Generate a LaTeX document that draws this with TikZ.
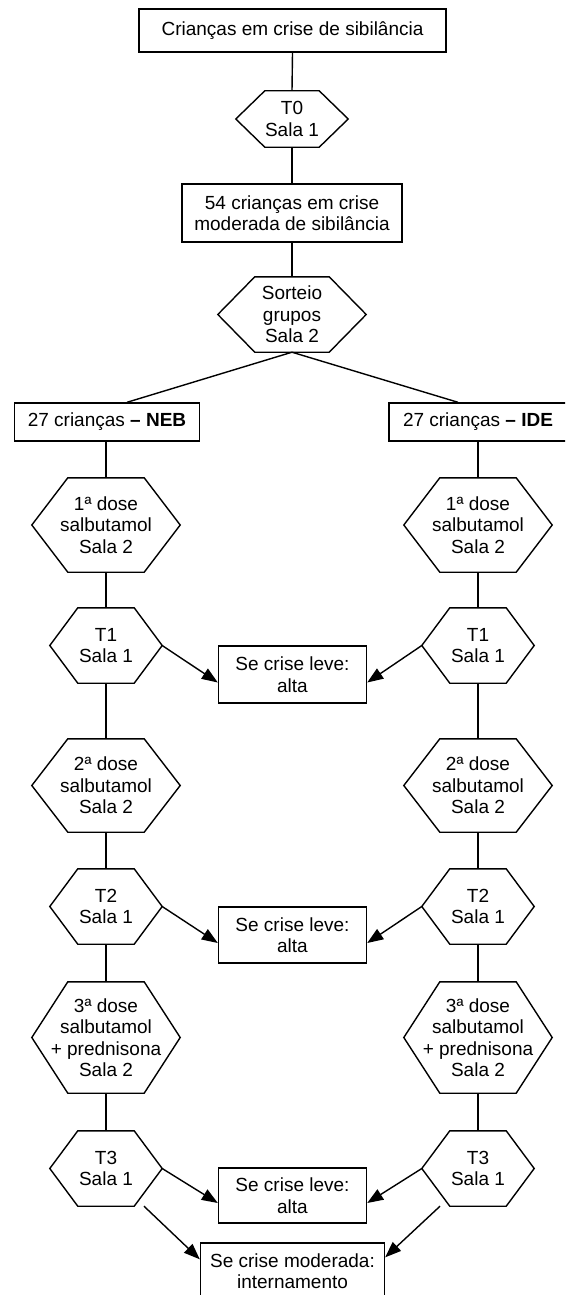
\documentclass[tikz,border=0pt]{standalone}
\usepackage{fontspec}
\setmainfont{Liberation Sans}
\usetikzlibrary{arrows.meta,calc}
\tikzset{
  ln/.style={line width=1.4pt},
  boxn/.style={draw, ln, align=center, inner sep=0pt},
  hexn/.style={align=center, inner sep=0pt},
  arr/.style={ln, -{Triangle[length=16pt,width=12pt]}},
}
% name, x, y, full width, slant, full height, text
\newcommand\hexbox[7]{%
  \node[hexn, minimum width=#4, minimum height=#6] (#1) at (#2,#3) {#7};
  \draw[ln] (#1.west) -- ($(#1.north west)+(#5,0)$) -- ($(#1.north east)+(-#5,0)$)
    -- (#1.east) -- ($(#1.south east)+(-#5,0)$) -- ($(#1.south west)+(#5,0)$) -- cycle;
}
\begin{document}
\begin{tikzpicture}[x=1pt, y=-1pt, font=\fontsize{19}{21.5}\selectfont]
\useasboundingbox (0,0) rectangle (565,1295);
\clip (0,0) rectangle (565,1295);

% top
\node[boxn, minimum width=307pt, minimum height=43pt] (box1) at (292.5,30.5) {Crianças em crise de sibilância};
\hexbox{t0}{292}{119}{112pt}{29}{56pt}{T0\\Sala 1}
\node[boxn, minimum width=220pt, minimum height=58pt] (box2) at (292,213) {54 crianças em crise\\moderada de sibilância};
\hexbox{sort}{292}{314.5}{148pt}{37}{75pt}{Sorteio\\grupos\\Sala 2}

\node[boxn, minimum width=185pt, minimum height=38pt] (neb) at (107,422) {27 crianças \textbf{– NEB}};
\node[boxn, minimum width=186pt, minimum height=38pt] (ide) at (482,422) {\hspace*{-8pt}27 crianças \textbf{– IDE}};

% left column
\hexbox{d1L}{106}{525}{148pt}{36}{94pt}{1ª dose\\salbutamol\\Sala 2}
\hexbox{t1L}{106}{645.5}{112pt}{28}{75pt}{T1\\Sala 1}
\hexbox{d2L}{106}{785.5}{148pt}{36}{93pt}{2ª dose\\salbutamol\\Sala 2}
\hexbox{t2L}{106}{906.5}{112pt}{28}{75pt}{T2\\Sala 1}
\hexbox{d3L}{106}{1037.5}{148pt}{36}{111pt}{3ª dose\\salbutamol\\+ prednisona\\Sala 2}
\hexbox{t3L}{106}{1168.5}{112pt}{28}{75pt}{T3\\Sala 1}

% right column
\hexbox{d1R}{478}{525}{148pt}{36}{94pt}{1ª dose\\salbutamol\\Sala 2}
\hexbox{t1R}{478}{645.5}{112pt}{28}{75pt}{T1\\Sala 1}
\hexbox{d2R}{478}{785.5}{148pt}{36}{93pt}{2ª dose\\salbutamol\\Sala 2}
\hexbox{t2R}{478}{906.5}{112pt}{28}{75pt}{T2\\Sala 1}
\hexbox{d3R}{478}{1037.5}{148pt}{36}{111pt}{3ª dose\\salbutamol\\+ prednisona\\Sala 2}
\hexbox{t3R}{478}{1168.5}{112pt}{28}{75pt}{T3\\Sala 1}

% outcome boxes
\node[boxn, minimum width=148pt, minimum height=57pt] (leve1) at (292.5,674.5) {Se crise leve:\\alta};
\node[boxn, minimum width=148pt, minimum height=56pt] (leve2) at (292.5,935) {Se crise leve:\\alta};
\node[boxn, minimum width=148pt, minimum height=55pt] (leve3) at (292.5,1195.5) {Se crise leve:\\alta};
\node[boxn, minimum width=184pt, minimum height=56pt] (mod) at (292.5,1271) {Se crise moderada:\\internamento};

% connectors
\draw[ln] (box1.south) -- (t0.north);
\draw[ln] (t0.south) -- (box2.north);
\draw[ln] (box2.south) -- (sort.north);
\draw[ln] (sort.south) -- ($(neb.north)+(20,0)$);
\draw[ln] (sort.south) -- ($(ide.north)+(-24,0)$);

\draw[ln] (neb.south -| d1L.north) -- (d1L.north);
\draw[ln] (ide.south -| d1R.north) -- (d1R.north);
\foreach \s in {L,R}{
  \draw[ln] (d1\s.south) -- (t1\s.north);
  \draw[ln] (t1\s.south) -- (d2\s.north);
  \draw[ln] (d2\s.south) -- (t2\s.north);
  \draw[ln] (t2\s.south) -- (d3\s.north);
  \draw[ln] (d3\s.south) -- (t3\s.north);
}

\draw[arr] (t1L.east) -- ($(leve1.west)+(0,8)$);
\draw[arr] (t1R.west) -- ($(leve1.east)+(0,8)$);
\draw[arr] (t2L.east) -- ($(leve2.west)+(0,8)$);
\draw[arr] (t2R.west) -- ($(leve2.east)+(0,8)$);
\draw[arr] (t3L.east) -- ($(leve3.west)+(0,7.5)$);
\draw[arr] (t3R.west) -- ($(leve3.east)+(0,7.5)$);

\coordinate (mL) at ($(t3L.south)+(38,0)$);
\coordinate (mR) at ($(t3R.south)+(-38,0)$);
\draw[arr] (mL) -- ($(mod.north west)+(0,17)$);
\draw[arr] (mR) -- ($(mod.north east)+(0,15)$);
\end{tikzpicture}
\end{document}
